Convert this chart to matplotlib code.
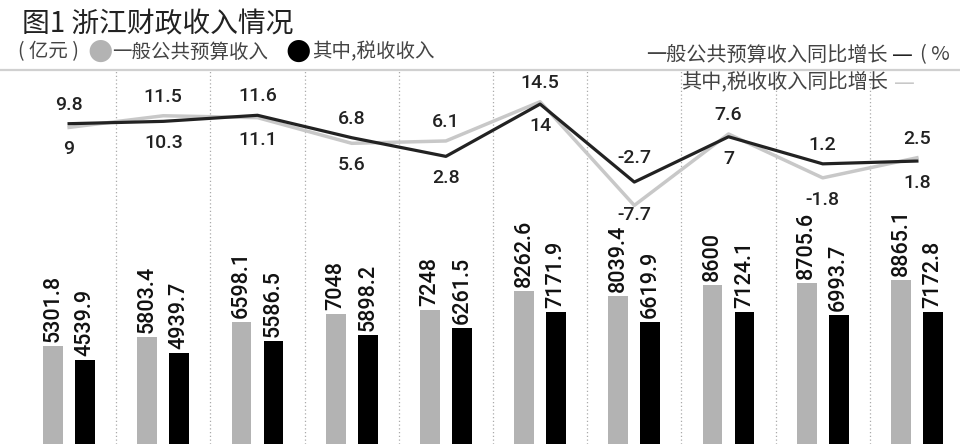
import matplotlib
matplotlib.use("Agg")
import matplotlib.pyplot as plt
from matplotlib import font_manager
import numpy as np

# data (2016-2025)
budget = [5301.8, 5803.4, 6598.1, 7048, 7248, 8262.6, 8039.4, 8600, 8705.6, 8865.1]
tax = [4539.9, 4939.7, 5586.5, 5898.2, 6261.5, 7171.9, 6619.9, 7124.1, 6993.7, 7172.8]
budget_growth = [9.8, 10.3, 11.6, 6.8, 2.8, 14, -2.7, 7, 1.2, 1.8]
tax_growth = [9, 11.5, 11.1, 5.6, 6.1, 14.5, -7.7, 7.6, -1.8, 2.5]


def pick(names):
    for n in names:
        try:
            font_manager.findfont(n, fallback_to_default=False)
            return n
        except Exception:
            pass
    return "DejaVu Sans"


num_font = pick(["Liberation Sans Narrow", "DejaVu Sans Condensed", "Roboto"])
plt.rcParams['font.family'] = ['Noto Sans CJK SC', 'DejaVu Sans']

fig = plt.figure(figsize=(9.6, 4.44), dpi=100)
W, H = 960, 444

# bar axes; runs past the right edge like the original crop
ax = fig.add_axes([22 / W, 0, 942 / W, 374 / H])
x = np.arange(len(budget))
ax.bar(x - 0.17, budget, width=0.21, color='#b3b3b3')
ax.bar(x + 0.17, tax, width=0.21, color='#000000')
ax.set_xlim(-0.5, 9.5)
ax.set_ylim(0, 20250)
for i in range(len(budget)):
    ax.annotate(f"{budget[i]:g}", (x[i] - 0.17, budget[i]), xytext=(0, 4),
                textcoords='offset pixels', rotation=90, ha='center', va='bottom',
                fontsize=15.5, family=num_font, weight='medium', color='#111111')
    ax.annotate(f"{tax[i]:g}", (x[i] + 0.17, tax[i]), xytext=(0, 4),
                textcoords='offset pixels', rotation=90, ha='center', va='bottom',
                fontsize=15.5, family=num_font, weight='medium', color='#111111')
for k in range(1, 10):
    ax.axvline(k - 0.5, color='#aaaaaa', lw=0.9, ls=(0, (1, 2)))
ax.axis('off')

# growth lines
ax2 = ax.twinx()
ax2.set_ylim(-58.8, 21.3)
ax2.plot(x, tax_growth, color='#c8c8c8', lw=2.5)
ax2.plot(x, budget_growth, color='#222222', lw=2.3)
for i in range(len(x)):
    hi = max(budget_growth[i], tax_growth[i])
    lo = min(budget_growth[i], tax_growth[i])
    up = 24 if hi < 0 else 19
    down = -10 if lo < -5 else -22
    ax2.annotate(f"{hi:g}", (x[i], hi), xytext=(0, up), textcoords='offset pixels',
                 ha='center', va='center', fontsize=14, family=num_font,
                 weight='medium', color='#222222')
    ax2.annotate(f"{lo:g}", (x[i], lo), xytext=(0, down), textcoords='offset pixels',
                 ha='center', va='center', fontsize=14, family=num_font,
                 weight='medium', color='#222222')
ax2.axis('off')

# header
fig.text(22 / W, 1 - 24 / H, "图1 浙江财政收入情况", fontsize=20, weight='medium',
         color='#222222', va='center')
fig.text(18 / W, 1 - 52 / H, "( 亿元 )", fontsize=14, color='#444444', va='center')
fig.text(100 / W, 1 - 51 / H, "●", fontsize=21, color='#b3b3b3', va='center', ha='center',
         family='DejaVu Sans')
fig.text(112 / W, 1 - 52 / H, "一般公共预算收入", fontsize=14, color='#444444', va='center')
fig.text(298 / W, 1 - 51 / H, "●", fontsize=21, color='#000000', va='center', ha='center',
         family='DejaVu Sans')
fig.text(312 / W, 1 - 52 / H, "其中,税收收入", fontsize=14, color='#444444', va='center')

fig.text(888 / W, 1 - 55 / H, "一般公共预算收入同比增长", fontsize=14.5, color='#444444',
         va='center', ha='right')
fig.text(892 / W, 1 - 55 / H, "—", fontsize=15, color='#222222', va='center',
         family='DejaVu Sans')
fig.text(920 / W, 1 - 55 / H, "( %", fontsize=14.5, color='#444444', va='center')
fig.text(888 / W, 1 - 83 / H, "其中,税收收入同比增长", fontsize=14.5, color='#444444',
         va='center', ha='right')
fig.text(894 / W, 1 - 83 / H, "—", fontsize=15, color='#c8c8c8', va='center',
         family='DejaVu Sans')

fig.add_artist(plt.Line2D([0, 1], [1 - 70 / H, 1 - 70 / H], color='#d0d0d0', lw=1.6))

fig.savefig("out.png", dpi=100)
